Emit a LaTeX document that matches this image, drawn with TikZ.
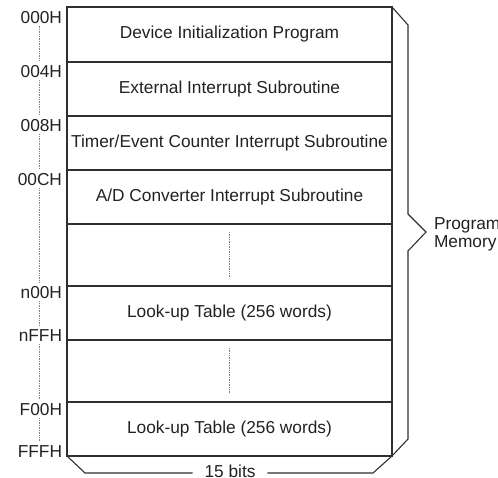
\documentclass[tikz,border=0pt]{standalone}
\usepackage{fontspec}
\setmainfont{Liberation Sans}
\definecolor{ln}{HTML}{303030}
\definecolor{txt}{HTML}{222222}
\definecolor{dotc}{HTML}{808080}
\begin{document}
\begin{tikzpicture}[x=1pt,y=-1pt,
  lbl/.style={inner sep=0pt, outer sep=0pt, font=\fontsize{17.3}{18}\selectfont, text=txt},
  row/.style={lbl, draw=ln, line width=1.1pt, minimum width=325pt, anchor=north west},
  addr/.style={lbl, anchor=east},
  dotl/.style={draw=dotc, line width=0.7pt, dash pattern=on 0.8pt off 0.9pt},
  brace/.style={draw=ln, line width=1.1pt, line join=miter}]
\useasboundingbox (0,0) rectangle (498,477);
% memory rows
\node[row, minimum height=55pt] (r1) at (67,7) {Device Initialization Program};
\node[row, minimum height=54pt] (r2) at (r1.south west) {External Interrupt Subroutine};
\node[row, minimum height=54pt] (r3) at (r2.south west) {Timer/Event Counter Interrupt Subroutine};
\node[row, minimum height=54pt] (r4) at (r3.south west) {A/D Converter Interrupt Subroutine};
\node[row, minimum height=62pt] (r5) at (r4.south west) {};
\node[row, minimum height=54pt] (r6) at (r5.south west) {Look-up Table (256 words)};
\node[row, minimum height=62pt] (r7) at (r6.south west) {};
\node[row, minimum height=54pt] (r8) at (r7.south west) {Look-up Table (256 words)};
% dotted continuation marks in the empty rows
\draw[dotl] ([yshift=-8pt]r5.north) -- ([yshift=9pt]r5.south);
\draw[dotl] ([yshift=-8pt]r7.north) -- ([yshift=9pt]r7.south);
% addresses
\node[addr] (a0) at (62,17.5) {000H};
\node[addr] (a1) at (62,72) {004H};
\node[addr] (a2) at (62,126) {008H};
\node[addr] (a3) at (62,180) {00CH};
\node[addr] (a4) at (62,293) {n00H};
\node[addr] (a5) at (62,336) {nFFH};
\node[addr] (a6) at (62,410) {F00H};
\node[addr] (a7) at (62,452) {FFFH};
\coordinate (xd) at (39,0);
\foreach \u/\v in {a0/a1,a1/a2,a2/a3,a3/a4,a4/a5,a5/a6,a6/a7}
  \draw[dotl] ([yshift=-2pt]\u.south -| xd) -- ([yshift=5pt]\v.north -| xd);
% right brace
\draw[brace] (r1.north east) -- (408,25) -- (408,214) -- (426,232) -- (408,251) -- (408,439) -- (r8.south east);
\node[lbl, anchor=west, align=left] (pm) at (434,234.5) {Program\\Memory};
% bottom brace
\node[lbl, inner xsep=12pt] (bits) at (230,471) {15 bits};
\draw[brace] (r8.south west) -- (85,473) -- ([yshift=-2pt]bits.west);
\draw[brace] ([yshift=-2pt]bits.east) -- (373,473) -- (r8.south east);
\end{tikzpicture}
\end{document}
